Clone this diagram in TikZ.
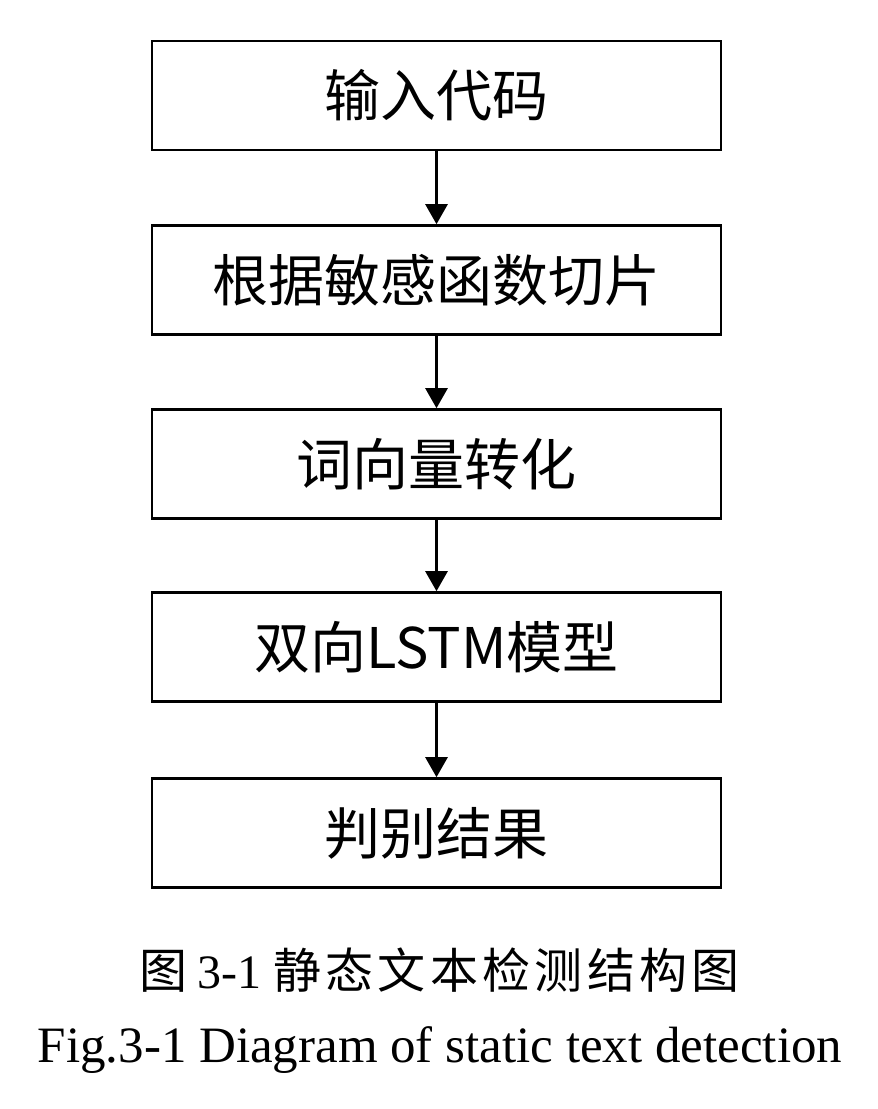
\documentclass[tikz,border=0pt]{standalone}
\usepackage{fontspec}
\setmainfont{Liberation Serif}
\newfontfamily\cjk{Noto Sans CJK SC}
\newfontfamily\cjkcap{Noto Sans CJK SC}[LetterSpace=9]
\usetikzlibrary{arrows.meta}
\begin{document}
\begin{tikzpicture}[x=1pt,y=-1pt,
  stepbox/.style={draw=black,line width=2.6pt,minimum width=569pt,minimum height=109pt,inner sep=0pt,font=\cjk\fontsize{56}{60}\selectfont},
  flow/.style={line width=2.6pt,-{Triangle[length=20pt,width=22pt]}}]
\useasboundingbox (0,0) rectangle (878,1109);
\node[stepbox] (b1) at (436.5,95.5) {输入代码};
\node[stepbox] (b2) at (436.5,280) {根据敏感函数切片};
\node[stepbox] (b3) at (436.5,464) {词向量转化};
\node[stepbox] (b4) at (436.5,647) {双向LSTM模型};
\node[stepbox] (b5) at (436.5,833) {判别结果};
\draw[flow] (b1) -- (b2);
\draw[flow] (b2) -- (b3);
\draw[flow] (b3) -- (b4);
\draw[flow] (b4) -- (b5);
\node[font=\fontsize{48}{52}\selectfont,anchor=west,inner sep=0pt] (cap1) at (139,970) {{\cjkcap 图}\hspace{10pt}3-1\hspace{12pt}{\cjkcap 静态文本检测结构图}};
\node[font=\fontsize{51}{55}\selectfont] (cap2) at (440,1050) {Fig.3-1 Diagram of static text detection};
\end{tikzpicture}
\end{document}
